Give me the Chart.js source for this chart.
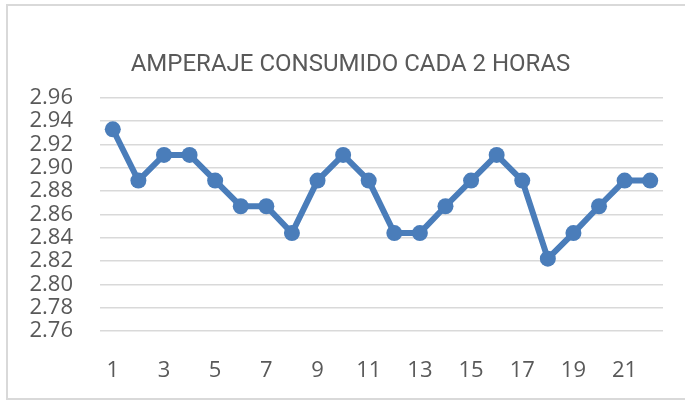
<!DOCTYPE html>
<html>
<head>
<meta charset="utf-8">
<script src="https://cdn.jsdelivr.net/npm/chart.js@4"></script>
<style>
  body { margin: 0; background: #fff; }
  #wrap { position: relative; width: 685px; height: 400px; overflow: hidden; }
  #frame { position: absolute; left: 6px; top: 4px; width: 700px; height: 392px; border: 2px solid #d9d9d9; }
  #chart1 { position: absolute; left: 0; top: 0; }
</style>
</head>
<body>
<div id="wrap">
  <div id="frame"></div>
  <canvas id="chart1" width="685" height="400"></canvas>
</div>
<script>
// lecturas cada 2 horas
const hours = ["1", "2", "3", "4", "5", "6", "7", "8", "9", "10", "11",
               "12", "13", "14", "15", "16", "17", "18", "19", "20", "21", "22"];
const amps = [2.933, 2.889, 2.911, 2.911, 2.889, 2.867, 2.867, 2.844, 2.889, 2.911, 2.889,
              2.844, 2.844, 2.867, 2.889, 2.911, 2.889, 2.822, 2.844, 2.867, 2.889, 2.889];
const yMin = 2.76;
const yMax = 2.96;
const yStep = 0.02;
const chartTitle = "AMPERAJE CONSUMIDO CADA 2 HORAS";

const blue = "#4a7dba";
const grey = "#595959";

// the title in the original sits a bit right of the canvas centre
const shiftTitle = {
    id: 'shiftTitle',
    afterLayout(chart) {
        const t = chart.titleBlock;
        if (t) { t.left += 19; t.right += 19; }
    }
};

const c1 = document.getElementById("chart1");
let chartObject1 = new Chart(c1, {
    type: 'line',
    data: {
        labels: hours,
        datasets: [{
            label: 'Amperaje',
            data: amps,
            borderColor: blue,
            backgroundColor: blue,
            borderWidth: 6,
            pointRadius: 8,
            pointBackgroundColor: blue,
            pointBorderWidth: 0,
            tension: 0
        }]
    },
    plugins: [shiftTitle],
    options: {
        responsive: false,
        animation: false,
        layout: {
            padding: { left: 0, right: 22, top: 0, bottom: 0 }
        },
        plugins: {
            legend: { display: false },
            tooltip: { enabled: false },
            title: {
                display: true,
                text: chartTitle,
                color: grey,
                font: { family: "Roboto, 'Open Sans', sans-serif", size: 24, weight: 'normal' },
                padding: { top: 51, bottom: 18 }
            }
        },
        scales: {
            x: {
                offset: true,
                grid: { display: false, drawTicks: false },
                border: { display: false },
                ticks: {
                    autoSkip: false,
                    maxRotation: 0,
                    padding: 27,
                    color: grey,
                    font: { family: "'Open Sans', sans-serif", size: 22 },
                    callback: function (val, i) {
                        return i % 2 === 0 ? hours[i] : '';
                    }
                },
                afterFit: function (s) { s.height = 69; }
            },
            y: {
                min: yMin,
                max: yMax,
                grid: { color: "#d9d9d9", lineWidth: 1.5, drawTicks: false },
                border: { display: false },
                ticks: {
                    stepSize: yStep,
                    autoSkip: false,
                    padding: 27,
                    color: grey,
                    font: { family: "'Open Sans', sans-serif", size: 22 },
                    callback: function (v) { return v.toFixed(2); }
                },
                afterFit: function (s) { s.width = 100; }
            }
        }
    }
});
</script>
</body>
</html>
